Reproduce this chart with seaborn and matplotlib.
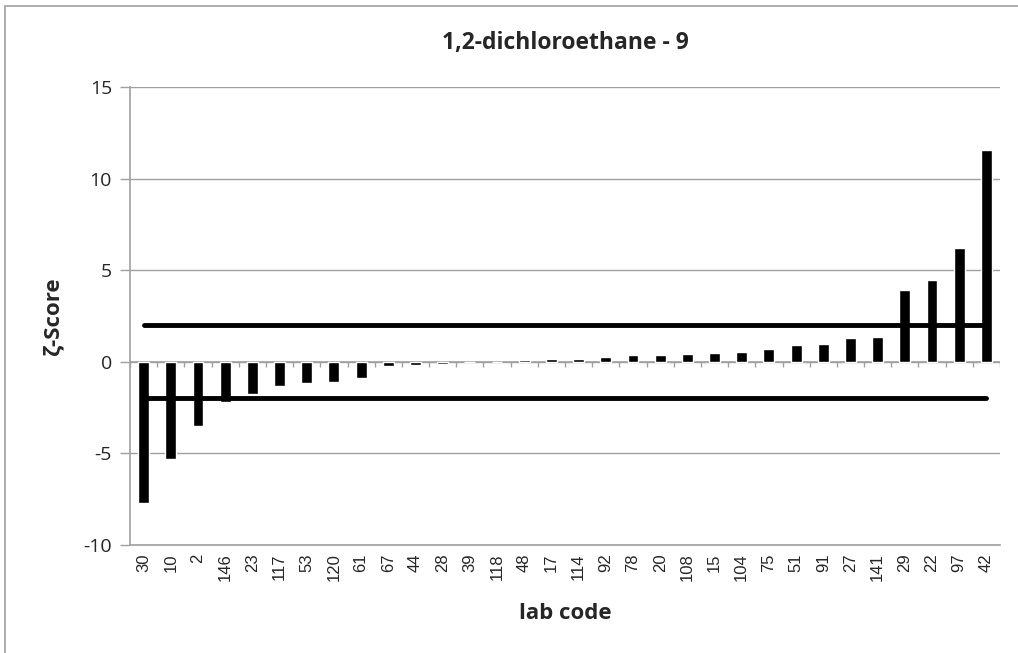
import pandas as pd
import matplotlib
matplotlib.use("Agg")
import matplotlib.pyplot as plt
import seaborn as sns
from matplotlib.patches import Rectangle

labs = ["30", "10", "2", "146", "23", "117", "53", "120", "61", "67", "44", "28",
        "39", "118", "48", "17", "114", "92", "78", "20", "108", "15", "104", "75",
        "51", "91", "27", "141", "29", "22", "97", "42"]
zeta = [-7.7, -5.3, -3.48, -2.17, -1.78, -1.31, -1.15, -1.11, -0.89, -0.23, -0.2, -0.14,
        -0.03, 0.0, 0.12, 0.13, 0.18, 0.26, 0.38, 0.38, 0.4, 0.5, 0.52, 0.7,
        0.93, 0.97, 1.3, 1.37, 3.9, 4.47, 6.2, 11.58]
limite_sup = 2
limite_inf = -2

df = pd.DataFrame({"lab": labs, "zeta": zeta})

sns.set_style("white")
plt.rcParams["axes.unicode_minus"] = False
fig = plt.figure(figsize=(10.18, 6.53), dpi=100)
ax = fig.add_axes([130 / 1018, 1 - 545 / 653, 870 / 1018, 458 / 653])

gris = "#a0a0a0"
ax.set_ylim(-10, 15)
ax.set_yticks([-10, -5, 0, 5, 10, 15])
ax.yaxis.grid(True, color=gris, lw=1)
ax.set_axisbelow(True)

sns.barplot(data=df, x="lab", y="zeta", color="black", width=0.4,
            saturation=1, ax=ax, zorder=2)
n = len(labs)
ax.set_xlim(-0.5, n - 0.5)

# eje de categorias en cero con marcas entre categorias
ax.axhline(0, color=gris, lw=1.2, zorder=1)
ax.vlines([i + 0.5 for i in range(-1, n)], 0, -0.28, color=gris, lw=1, zorder=1)

# lineas de +2 y -2
ax.plot([0, n - 1], [limite_sup, limite_sup], color="black", lw=3.5, zorder=3,
        solid_capstyle="round")
ax.plot([0, n - 1], [limite_inf, limite_inf], color="black", lw=3.5, zorder=3,
        solid_capstyle="round")

for s in ["top", "right"]:
    ax.spines[s].set_visible(False)
for s in ["left", "bottom"]:
    ax.spines[s].set_color(gris)
    ax.spines[s].set_linewidth(1.2)

ax.tick_params(axis="y", left=True, direction="out", length=7, color=gris, width=1,
               labelsize=14, pad=6)
ax.tick_params(axis="x", bottom=False, length=0, labelsize=12, pad=6)
plt.setp(ax.get_xticklabels(), rotation=90, family="Liberation Sans")
plt.setp(ax.get_yticklabels(), family="Open Sans")

ax.set_xlabel("lab code", fontsize=16, fontweight="bold", family="Open Sans",
              labelpad=16)
ax.set_ylabel("ζ-Score", fontsize=16, fontweight="bold", family="Open Sans",
              labelpad=14)
ax.set_title("1,2-dichloroethane - 9", fontsize=16.5, fontweight="bold",
             family="Open Sans", pad=27)

fig.patches.append(Rectangle((5 / 1018, -0.05), 1.2, 1 - 6 / 653 + 0.05,
                             transform=fig.transFigure, fill=False,
                             edgecolor=gris, lw=1.2))

fig.savefig("out.png", dpi=100)
